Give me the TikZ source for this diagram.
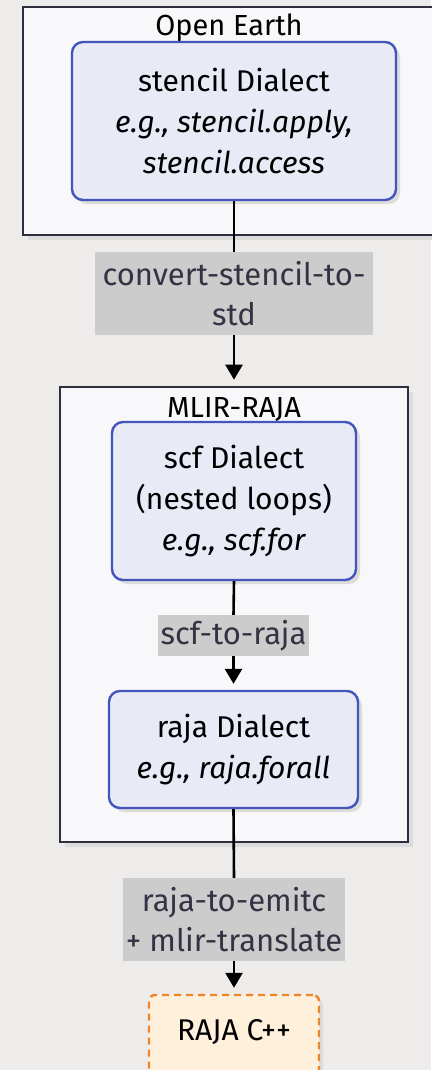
\documentclass[tikz,border=0pt]{standalone}
\usepackage{fontspec}
\setmainfont{Fira Sans}
\usetikzlibrary{arrows.meta,shadows}
\definecolor{bgc}{HTML}{EDECEA}
\definecolor{clfill}{HTML}{F8F8FA}
\definecolor{clline}{HTML}{2E2E3E}
\definecolor{ndfill}{HTML}{E8EAF6}
\definecolor{ndline}{HTML}{4455BB}
\definecolor{lbfill}{HTML}{CCCCCC}
\definecolor{lbtext}{HTML}{333344}
\definecolor{cppfill}{HTML}{FFF0DC}
\definecolor{cppline}{HTML}{F08528}
\definecolor{shad}{HTML}{DCDCDC}
\tikzset{
  cluster/.style={draw=clline, line width=2.6pt, fill=clfill, inner sep=0pt,
    drop shadow={shadow xshift=5pt, shadow yshift=-5pt, fill=shad, opacity=1}},
  cltitle/.style={font=\fontsize{29}{32}\selectfont, text=black, inner sep=0pt},
  dialect/.style={draw=ndline, line width=2.4pt, fill=ndfill, rounded corners=11pt,
    inner sep=0pt, align=center, font=\fontsize{30}{41}\selectfont,
    drop shadow={shadow xshift=4pt, shadow yshift=-4pt, fill=shad, opacity=1}},
  passlbl/.style={fill=lbfill, inner sep=0pt, align=center, text=lbtext,
    font=\fontsize{31}{40}\selectfont},
  target/.style={draw=cppline, line width=2.4pt, dash pattern=on 7pt off 5pt,
    fill=cppfill, rounded corners=6pt, inner sep=0pt,
    drop shadow={shadow xshift=4pt, shadow yshift=-4pt, fill=shad, opacity=1}},
  conn/.style={draw=black, line width=2.6pt},
  arr/.style={conn, -{Triangle[width=17pt,length=15pt]}, shorten >=6pt},
}
\begin{document}
\begin{tikzpicture}[x=1pt,y=-1pt]
\useasboundingbox (0,0) rectangle (431,1070);
\fill[bgc] (0,0) rectangle (431,1070);

% clusters
\node[cluster, minimum width=417pt, minimum height=228pt] (oe) at (231.5,121) {};
\node[cltitle] (oetitle) at (229,28) {Open Earth};
\node[cluster, minimum width=348pt, minimum height=455pt] (mlir) at (234,614.5) {};
\node[cltitle] (mlirtitle) at (234,409) {MLIR-RAJA};

% dialect nodes
\node[dialect, minimum width=324pt, minimum height=158pt] (stencil) at (234,121)
  {stencil Dialect\\ \textit{e.g., stencil.apply,}\\ \textit{stencil.access}};
\node[dialect, minimum width=244pt, minimum height=158pt] (scf) at (234,501)
  {scf Dialect\\ (nested loops)\\ \textit{e.g., scf.for}};
\node[dialect, minimum width=249pt, minimum height=117pt] (raja) at (233.5,749.5)
  {raja Dialect\\ \textit{e.g., raja.forall}};
\node[target, minimum width=170pt, minimum height=80pt] (cpp) at (234,1035) {};
\node[font=\fontsize{30}{32}\selectfont, inner sep=0pt] (cpptext) at (234,1032) {RAJA C++};

% pass labels
\node[passlbl, minimum width=278pt, minimum height=83pt] (l1) at (234,293.5)
  {convert-stencil-to-\\std};
\node[passlbl, minimum width=151pt, minimum height=41pt] (l2) at (233.5,635.5)
  {scf-to-raja};
\node[passlbl, minimum width=222pt, minimum height=83pt] (l3) at (234,919.5)
  {raja-to-emitc\\+ mlir-translate};

% connectors
\draw[conn] (stencil.south) -- (l1.north);
\draw[arr] (l1.south) -- (mlir.north);
\draw[conn] (scf.south) -- (l2.north);
\draw[arr] (l2.south) -- (raja.north);
\draw[conn] (raja.south) -- (l3.north);
\draw[arr] (l3.south) -- (cpp.north);
\end{tikzpicture}
\end{document}
